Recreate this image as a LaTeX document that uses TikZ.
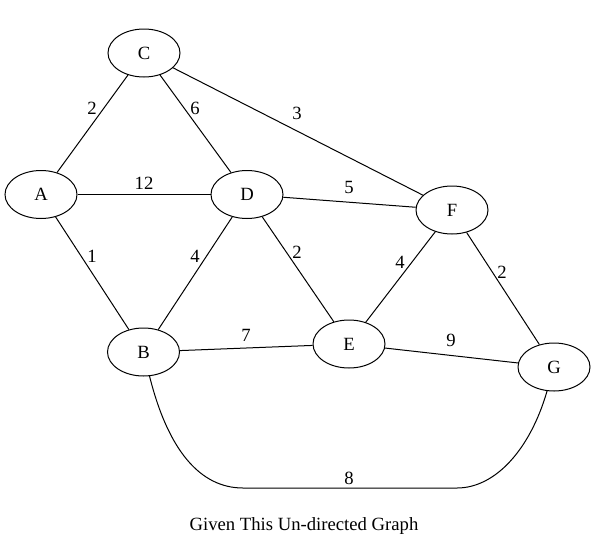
\documentclass[tikz,border=0pt]{standalone}
\usepackage{fontspec}
\setmainfont{Liberation Serif}
\usetikzlibrary{shapes.geometric}
\begin{document}
\begin{tikzpicture}[x=1pt,y=-1pt,
  vert/.style={ellipse,draw,line width=1pt,minimum width=72pt,minimum height=48pt,inner sep=0pt,font=\fontsize{18.67}{22}\selectfont},
  edge/.style={line width=1pt},
  lbl/.style={inner sep=0pt,font=\fontsize{18.67}{22}\selectfont}]
\useasboundingbox (0,0) rectangle (596,549);
\node[vert] (C) at (144,53) {C};
\node[vert] (A) at (41,194.5) {A};
\node[vert] (D) at (247,194.5) {D};
\node[vert] (F) at (452,210) {F};
\node[vert] (B) at (143.5,352) {B};
\node[vert] (E) at (349,344) {E};
\node[vert] (G) at (554,367) {G};
\coordinate (b1) at (243,488);
\coordinate (b2) at (457,488);
\draw[edge] (C) -- (A) node[lbl,at={(92,108)}] {2};
\draw[edge] (C) -- (D) node[lbl,at={(195,108)}] {6};
\draw[edge] (C) -- (F) node[lbl,at={(297,113)}] {3};
\draw[edge] (A) -- (D) node[lbl,at={(144,183)}] {12};
\draw[edge] (A) -- (B) node[lbl,at={(92,256)}] {1};
\draw[edge] (D) -- (B) node[lbl,at={(195,256)}] {4};
\draw[edge] (D) -- (E) node[lbl,at={(297,252)}] {2};
\draw[edge] (D) -- (F) node[lbl,at={(349,187)}] {5};
\draw[edge] (F) -- (E) node[lbl,at={(400,262)}] {4};
\draw[edge] (F) -- (G) node[lbl,at={(502,272)}] {2};
\draw[edge] (B) -- (E) node[lbl,at={(246,335)}] {7};
\draw[edge] (E) -- (G) node[lbl,at={(451,340)}] {9};
\draw[edge] (B) .. controls (168,450) and (200,488) .. (b1) -- (b2)
  .. controls (495,488) and (530,450) .. (G);
\node[lbl] (w8) at (349,478) {8};
\node[lbl] (cap) at (304,526) {Given This Un-directed Graph};
\end{tikzpicture}
\end{document}
